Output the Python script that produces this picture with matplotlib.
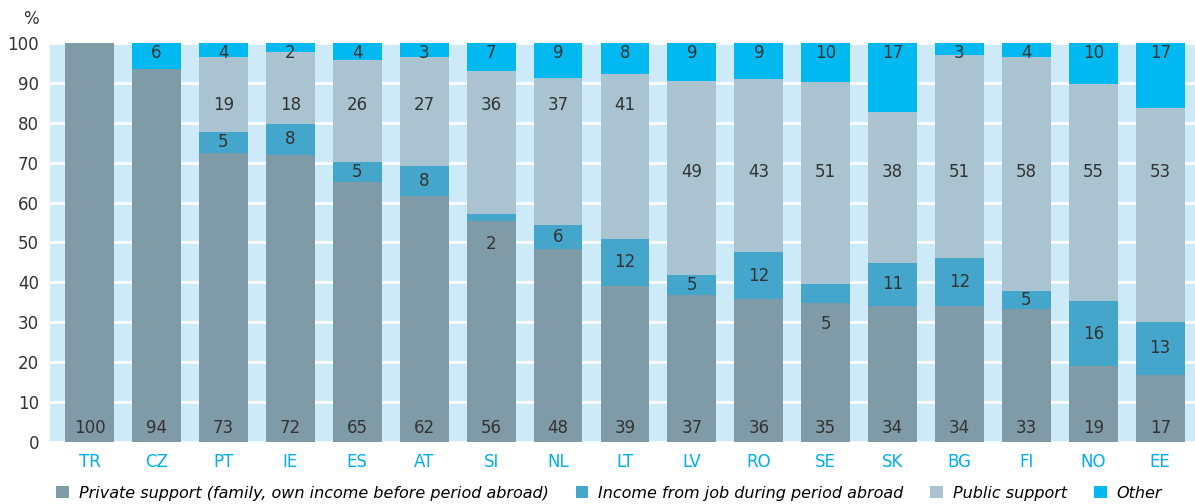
import numpy as np
import matplotlib.pyplot as plt

countries = ['TR', 'CZ', 'PT', 'IE', 'ES', 'AT', 'SI', 'NL', 'LT',
             'LV', 'RO', 'SE', 'SK', 'BG', 'FI', 'NO', 'EE']

# segment heights
private = [100.0, 93.5, 72.4, 71.9, 65.2, 61.7, 55.4, 48.4, 39.1,
           36.8, 35.8, 34.8, 34.1, 34.1, 33.3, 19.0, 16.8]
job = [0.0, 0.0, 5.3, 7.8, 5.0, 7.5, 1.7, 6.0, 11.8,
       5.1, 11.8, 4.8, 10.8, 12.0, 4.5, 16.3, 13.3]
public = [0.0, 0.0, 18.8, 18.0, 25.5, 27.3, 35.9, 36.8, 41.3,
          48.6, 43.4, 50.6, 37.8, 50.9, 58.7, 54.4, 53.6]
other = [0.0, 6.5, 3.5, 2.3, 4.3, 3.5, 7.0, 8.8, 8.2,
         9.5, 9.0, 9.8, 17.3, 3.0, 3.5, 10.3, 16.3]

# printed labels
private_lbl = [100, 94, 73, 72, 65, 62, 56, 48, 39, 37, 36, 35, 34, 34, 33, 19, 17]
job_lbl = [None, None, 5, 8, 5, 8, 2, 6, 12, 5, 12, 5, 11, 12, 5, 16, 13]
public_lbl = [None, None, 19, 18, 26, 27, 36, 37, 41, 49, 43, 51, 38, 51, 58, 55, 53]
other_lbl = [None, 6, 4, 2, 4, 3, 7, 9, 8, 9, 9, 10, 17, 3, 4, 10, 17]

series_names = ['Private support (family, own income before period abroad)',
                'Income from job during period abroad', 'Public support', 'Other']
colors = ['#7f9ba8', '#45a6cb', '#a9c4d0', '#00b9f1']

fig = plt.figure(figsize=(11.95, 5.04), dpi=100)
ax = fig.add_axes([0.042, 0.123, 0.958, 0.792])
ax.set_facecolor('#cdeaf8')

x = np.arange(len(countries))
w = 0.73
bottom = np.zeros(len(countries))
for vals, c, name in zip([private, job, public, other], colors, series_names):
    ax.bar(x, vals, w, bottom=bottom, color=c, label=name, zorder=3)
    bottom += np.array(vals)

txt = dict(ha='center', va='center', fontsize=12, color='#333333', zorder=4)
job_bottom = np.array(private)
for i in range(len(countries)):
    ax.text(x[i], 3.5, str(private_lbl[i]), **txt)
    if job_lbl[i] is not None:
        y = job_bottom[i] + job[i] / 2
        if countries[i] == 'SI':
            y = 49.6
        elif countries[i] == 'SE':
            y = 29.6
        ax.text(x[i], y, str(job_lbl[i]), **txt)
    if public_lbl[i] is not None:
        y = 84.5 if i <= 8 else 67.7
        ax.text(x[i], y, str(public_lbl[i]), **txt)
    if other_lbl[i] is not None:
        ax.text(x[i], 97.5, str(other_lbl[i]), **txt)

ax.set_xlim(-0.59, 16.52)
ax.set_ylim(0, 100)
ax.set_yticks(range(0, 101, 10))
ax.set_xticks(x)
ax.set_xticklabels(countries, color='#00aeef', fontsize=12)
ax.tick_params(axis='y', labelsize=12, labelcolor='#333333', length=0, pad=8)
ax.tick_params(axis='x', length=0, pad=8)
ax.grid(axis='y', color='white', linewidth=2, zorder=1)
ax.set_axisbelow(True)
for s in ax.spines.values():
    s.set_visible(False)

fig.text(0.019, 0.963, '%', fontsize=12, color='#333333', ha='left', va='center')

fig.legend(loc='lower left', bbox_to_anchor=(0.035, -0.022), ncol=4, frameon=False,
           handlelength=0.8, handleheight=0.8, columnspacing=1.7, handletextpad=0.6,
           prop={'style': 'italic', 'size': 11.5})

fig.savefig('out.png', dpi=100)
